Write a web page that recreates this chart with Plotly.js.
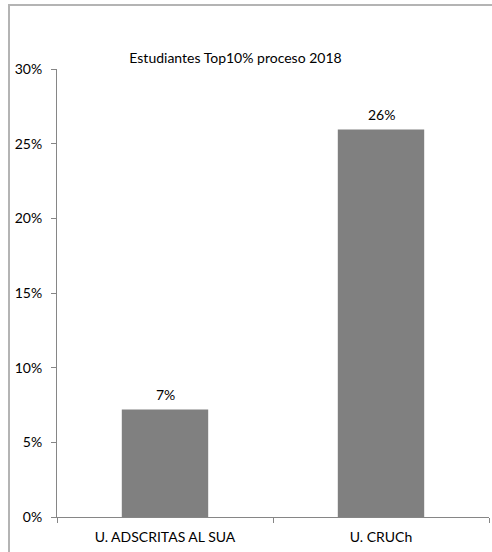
<!DOCTYPE html>
<html>
<head>
<meta charset="utf-8">
<script src="https://cdn.plot.ly/plotly-3.0.1.min.js"></script>
<style>
  html, body { margin: 0; padding: 0; background: #ffffff; }
  #wrap { position: relative; width: 492px; height: 552px; overflow: hidden; }
  #frame { position: absolute; left: 8px; top: 4px; width: 500px; height: 600px;
           border-top: 2px solid #b4b4b4; border-left: 2px solid #b4b4b4; box-sizing: border-box; }
  #chart { position: absolute; left: 0; top: 0; width: 492px; height: 552px; }
</style>
</head>
<body>
<div id="wrap">
  <div id="frame"></div>
  <div id="chart"></div>
</div>
<script>
const categories = ["U. ADSCRITAS AL SUA", "U. CRUCh"];
const values = [7.2, 25.95];
const labels = ["7%", "26%"];
const chartTitle = "Estudiantes Top10% proceso 2018";

const FONT = "Lato, 'Open Sans', sans-serif";

const trace = {
  type: "bar",
  x: categories,
  y: values,
  marker: { color: "#808080", line: { width: 0 } },
  hoverinfo: "skip"
};

const annotations = categories.map((c, i) => ({
  x: c, y: values[i], xref: "x", yref: "y",
  text: labels[i], showarrow: false,
  yanchor: "bottom", yshift: 4,
  font: { family: FONT, size: 14, color: "#000000" }
}));

const layout = {
  width: 492, height: 552,
  paper_bgcolor: "rgba(0,0,0,0)",
  plot_bgcolor: "rgba(0,0,0,0)",
  margin: { l: 57, r: 3, t: 69, b: 34.5, pad: 0 },
  showlegend: false,
  bargap: 0.6,
  title: {
    text: chartTitle,
    xref: "container", yref: "container",
    x: 235.5 / 492, y: 1 - 58.5 / 552,
    xanchor: "center", yanchor: "middle",
    font: { family: FONT, size: 14, color: "#000000" }
  },
  xaxis: {
    type: "category",
    showline: true, linecolor: "#868686", linewidth: 1,
    ticks: "outside", tickson: "boundaries", ticklen: 5, tickcolor: "#868686",
    ticklabelstandoff: 7,
    showgrid: false, zeroline: false,
    tickfont: { family: FONT, size: 14, color: "#000000" },
    fixedrange: true
  },
  yaxis: {
    range: [0, 30], dtick: 5, tick0: 0,
    ticksuffix: "%",
    showline: true, linecolor: "#868686", linewidth: 1,
    ticks: "outside", ticklen: 5, tickcolor: "#868686",
    ticklabelstandoff: 6,
    showgrid: false, zeroline: false,
    tickfont: { family: FONT, size: 14, color: "#000000" },
    fixedrange: true
  },
  annotations: annotations
};

Plotly.newPlot("chart", [trace], layout, { displayModeBar: false, staticPlot: true });
</script>
</body>
</html>
